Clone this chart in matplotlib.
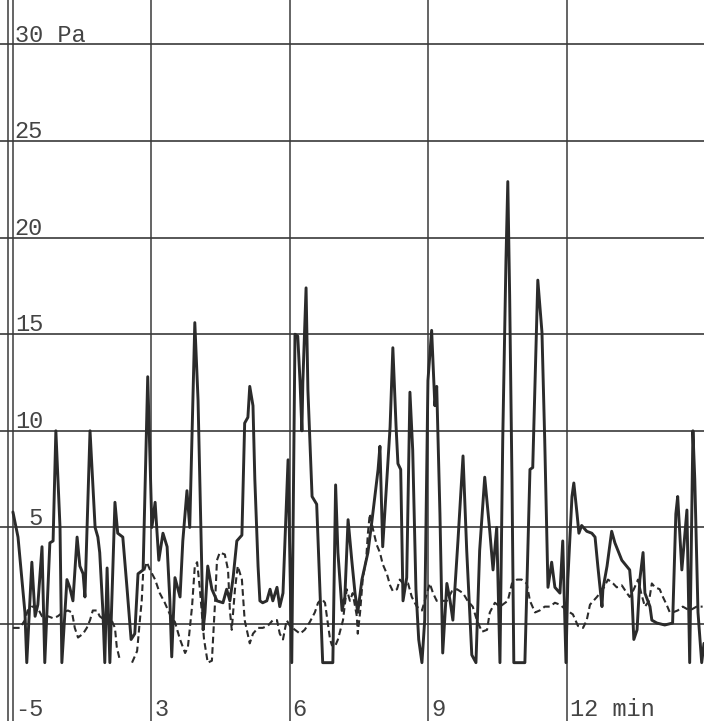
import numpy as np
import matplotlib
matplotlib.use("Agg")
import matplotlib.pyplot as plt

# ---- data (time in min, pressure in Pa) ----
solid_t = [0.00, 0.11, 0.26, 0.30, 0.41, 0.48, 0.54, 0.63, 0.69, 0.80, 0.87, 0.93, 1.02, 1.06,
           1.17, 1.23, 1.30, 1.39, 1.45, 1.52, 1.56, 1.67, 1.78, 1.84, 1.88, 1.95, 1.99, 2.04,
           2.10, 2.21, 2.27, 2.38, 2.47, 2.56, 2.64, 2.71, 2.82, 2.92, 3.01, 3.08, 3.16, 3.25,
           3.34, 3.40, 3.44, 3.51, 3.62, 3.68, 3.77, 3.83, 3.94, 4.01, 4.12, 4.16, 4.22, 4.31,
           4.42, 4.55, 4.63, 4.70, 4.77, 4.85, 4.96, 5.02, 5.09, 5.13, 5.20, 5.24, 5.31, 5.35,
           5.41, 5.50, 5.57, 5.63, 5.72, 5.78, 5.85, 5.96, 6.04, 6.11, 6.17, 6.22, 6.26, 6.28,
           6.35, 6.39, 6.48, 6.58, 6.71, 6.93, 6.99, 7.04, 7.13, 7.19, 7.26, 7.34, 7.41, 7.47,
           7.56, 7.69, 7.78, 7.91, 7.95, 8.01, 8.10, 8.17, 8.23, 8.30, 8.34, 8.40, 8.45, 8.53,
           8.60, 8.66, 8.73, 8.79, 8.86, 8.92, 8.99, 9.07, 9.14, 9.18, 9.25, 9.31, 9.40, 9.47,
           9.53, 9.64, 9.75, 9.83, 9.94, 10.03, 10.11, 10.22, 10.33, 10.40, 10.48, 10.53, 10.55,
           10.61, 10.68, 10.72, 10.76, 10.81, 10.85, 11.09, 11.20, 11.26, 11.31, 11.37, 11.46,
           11.52, 11.59, 11.67, 11.74, 11.85, 11.91, 11.98, 12.02, 12.11, 12.15, 12.22, 12.26,
           12.32, 12.43, 12.54, 12.61, 12.67, 12.76, 12.78, 12.87, 12.97, 13.04, 13.19, 13.36,
           13.41, 13.45, 13.52, 13.58, 13.65, 13.69, 13.80, 13.84, 13.95, 14.12, 14.29, 14.36,
           14.40, 14.49, 14.60, 14.66, 14.73, 14.77, 14.84, 14.92, 14.97]
solid_v = [5.8, 4.5, 0.6, -2.0, 3.2, 0.4, 1.0, 4.0, -2.0, 4.2, 4.3, 10.0, 5.0, -2.0,
           2.3, 1.9, 1.2, 4.5, 3.0, 2.6, 1.4, 10.0, 5.0, 4.5, 3.7, 0.6, -2.0, 2.9,
           -2.0, 6.3, 4.7, 4.5, 1.9, -0.8, -0.5, 2.6, 2.8, 12.8, 5.0, 6.3, 3.3, 4.7,
           4.0, 1.2, -1.7, 2.4, 1.4, 4.3, 6.9, 5.0, 15.6, 11.6, -0.3, 0.6, 3.0, 1.8,
           1.2, 1.1, 1.8, 1.2, 2.4, 4.3, 4.6, 10.4, 10.7, 12.3, 11.3, 7.5, 3.0, 1.2,
           1.1, 1.2, 1.8, 1.2, 1.9, 0.9, 1.6, 8.5, -2.0, 15.0, 14.9, 12.5, 10.0, 12.5,
           17.4, 12.1, 6.6, 6.2, -2.0, -2.0, 7.2, 3.7, 0.7, 1.4, 5.4, 3.3, 1.6, 0.6,
           2.3, 3.7, 5.4, 8.0, 9.2, 4.0, 7.5, 10.2, 14.3, 10.2, 8.3, 8.0, 1.2, 2.4,
           12.0, 9.0, 1.8, -0.8, -2.0, 0.2, 12.6, 15.2, 11.3, 12.3, 5.7, -1.5, 2.1, 1.2,
           0.2, 4.3, 8.7, 3.8, -1.6, -2.0, 3.8, 7.6, 4.8, 2.8, 5.0, 0.0, -2.0,
           9.5, 18.8, 22.9, 17.0, 7.5, -2.0, -2.0, 8.0, 8.1, 12.6, 17.8, 15.1,
           9.5, 1.9, 3.2, 1.9, 1.6, 4.3, -2.0, 2.3, 6.6, 7.3, 5.7, 4.7,
           5.1, 4.8, 4.7, 4.5, 3.0, 0.9, 1.8, 3.0, 4.8, 4.2, 3.3, 2.8,
           1.4, -0.8, -0.3, 2.3, 3.7, 1.6, 0.9, 0.2, 0.05, -0.05, 0.05, 5.7,
           6.6, 2.8, 5.9, -2.0, 10.0, 7.5, 0.6, -2.0, -1.0]

dash_t = [0.00, 0.15, 0.26, 0.32, 0.41, 0.52, 0.63, 0.76, 0.87, 0.97, 1.08, 1.19, 1.28, 1.34,
          1.41, 1.52, 1.60, 1.67, 1.73, 1.82, 1.88, 1.99, 2.10, 2.21, 2.25, 2.32, np.nan,
          2.58, 2.69, 2.75, 2.79, 2.82, 2.90, 2.97, 3.08, 3.18, 3.29, 3.40, 3.51, 3.62, 3.73,
          3.79, 3.88, 3.94, 3.99, 4.05, 4.14, 4.22, 4.31, 4.38, 4.42, 4.48, 4.59, 4.66, 4.70,
          4.74, 4.81, 4.87, 4.96, 5.02, 5.13, 5.20, 5.31, 5.41, 5.52, 5.63, 5.72, 5.78, 5.85,
          5.93, 6.00, 6.11, 6.22, 6.32, 6.43, 6.54, 6.61, 6.69, 6.76, 6.80, 6.87, 6.91, 6.97,
          7.04, 7.15, 7.23, 7.30, 7.36, 7.45, 7.47, 7.52, 7.58, 7.65, 7.69, 7.73, 7.80, 7.88,
          7.95, 8.01, 8.10, 8.17, 8.23, 8.32, 8.38, 8.45, 8.56, 8.64, 8.75, 8.86, 8.97, 9.03,
          9.10, 9.18, 9.29, 9.40, 9.51, 9.62, 9.75, 9.85, 9.96, 10.05, 10.16, 10.27, 10.33,
          10.44, 10.55, 10.72, 10.81, 10.92, 11.02, 11.13, 11.20, 11.31, 11.41, 11.52, 11.63,
          11.74, 11.85, 12.00, 12.13, 12.24, 12.35, 12.43, 12.50, 12.65, 12.78, 12.89, 13.00,
          13.08, 13.19, 13.30, 13.36, 13.45, 13.54, 13.62, 13.69, 13.78, 13.84, 13.91, 14.01,
          14.08, 14.16, 14.23, 14.29, 14.40, 14.51, 14.66, 14.81, 14.94]
dash_v = [-0.2, -0.2, 0.2, 0.7, 0.9, 0.9, 0.4, 0.4, 0.3, 0.4, 0.6, 0.7, 0.6, -0.2,
          -0.7, -0.5, -0.2, 0.2, 0.7, 0.7, 0.4, 0.2, 0.4, -0.2, -1.2, -1.9, np.nan,
          -2.0, -1.4, 0.2, 1.2, 2.6, 3.2, 2.8, 2.3, 1.6, 1.1, 0.5, 0.1, -0.8, -1.5,
          -1.2, 0.9, 3.0, 3.2, 1.8, -0.8, -2.0, -1.9, 1.2, 3.3, 3.7, 3.6, 2.8, 0.7,
          -0.3, 1.8, 3.0, 2.3, 0.2, -1.0, -0.5, -0.2, -0.2, -0.1, 0.2, 0.2, -0.5, -0.8,
          0.2, -0.1, -0.3, -0.5, -0.3, 0.1, 0.6, 1.1, 1.3, 1.1, 0.4, -0.8, -1.1, -1.2,
          -0.8, 0.2, 1.8, 1.2, 1.6, 0.4, -0.5, 0.6, 2.4, 3.3, 4.7, 5.7, 4.9, 4.1,
          3.7, 3.1, 2.6, 2.0, 1.7, 1.8, 2.3, 2.1, 2.1, 1.4, 0.9, 0.7, 1.6, 2.1,
          1.6, 1.2, 1.2, 1.2, 1.7, 1.8, 1.6, 1.2, 0.9, 0.2, -0.4, -0.3, 0.6,
          1.1, 0.9, 1.2, 2.1, 2.3, 2.3, 2.1, 1.2, 0.6, 0.7, 0.9, 0.9,
          1.1, 1.0, 0.7, 0.5, -0.1, -0.2, 0.2, 1.0, 1.4, 1.8, 2.3, 2.1,
          1.9, 2.0, 1.6, 1.4, 1.8, 2.3, 1.5, 0.9, 1.2, 2.1, 1.9, 1.8,
          1.4, 1.0, 0.6, 0.6, 0.7, 0.9, 0.7, 0.9, 0.9]

y_grid = [0, 5, 10, 15, 20, 25, 30]
y_labels = {30: "30 Pa", 25: "25", 20: "20", 15: "15", 10: "10", 5: " 5", -5: "-5"}
x_grid = [0, 3, 6, 9, 12]
x_labels = {3: "3", 6: "6", 9: "9", 12: "12 min"}

# ---- figure ----
fig = plt.figure(figsize=(7.04, 7.21), dpi=100)
ax = fig.add_axes([0, 0, 1, 1])
ax.set_xlim(-0.28, 14.97)
ax.set_ylim(-5.02, 32.3)
ax.axis("off")

grid_color = "#3a3a3a"
for v in y_grid:
    ax.axhline(v, color=grid_color, lw=1.2, zorder=1)
for t in x_grid:
    ax.axvline(t, color=grid_color, lw=1.1, zorder=1)
ax.axvline(-0.11, color=grid_color, lw=1.1, zorder=1)

ax.plot(solid_t, solid_v, color="#2b2b2b", lw=2.1, zorder=3,
        solid_joinstyle="round", solid_capstyle="round")
ax.plot(dash_t, dash_v, color="#2b2b2b", lw=1.5, zorder=2,
        linestyle=(0, (3.2, 1.8)))

font = dict(family=["Liberation Mono", "DejaVu Sans Mono"], fontsize=17, color="#444444")
for v, lab in y_labels.items():
    yb = v + 0.15 if v != -5 else -4.75
    ax.text(0.04, yb, lab, ha="left", va="baseline", **font)
for t, lab in x_labels.items():
    ax.text(t + 0.06, -4.75, lab, ha="left", va="baseline", **font)

fig.savefig("out.png", dpi=100, facecolor="white")
